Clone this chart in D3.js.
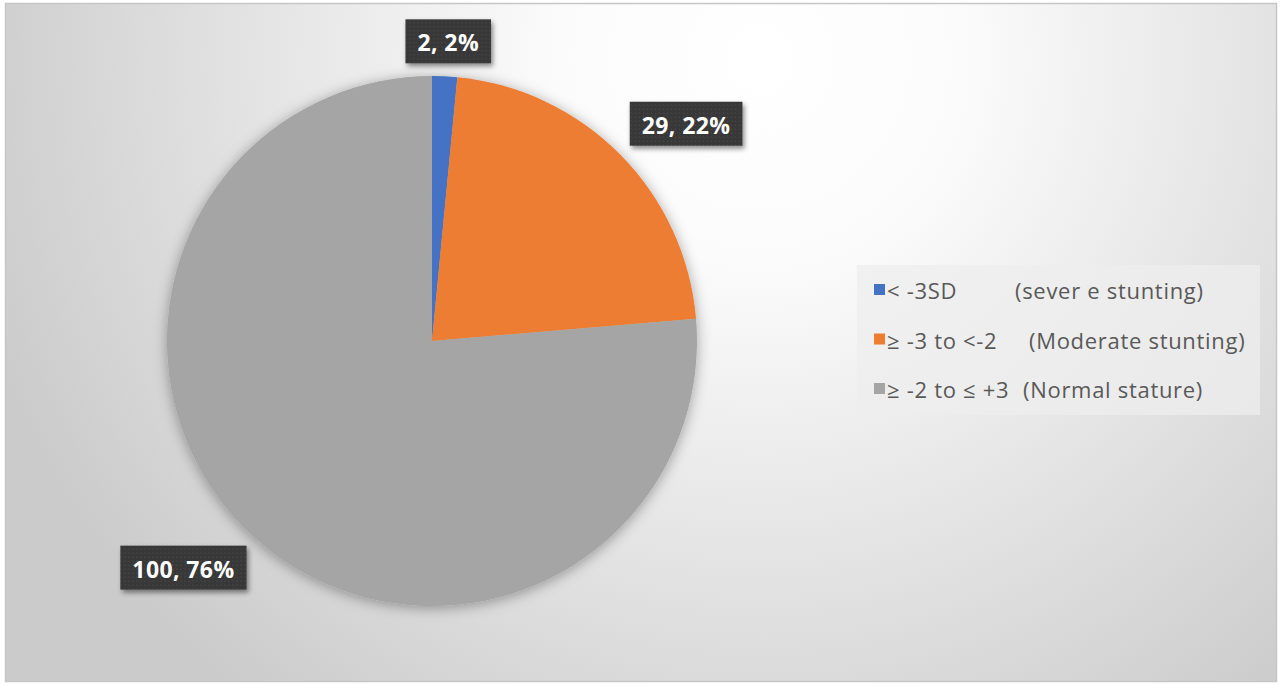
<!DOCTYPE html>
<html>
<head>
<meta charset="utf-8">
<script src="https://cdn.jsdelivr.net/npm/d3@7"></script>
<style>
  body { margin: 0; background: #fff; }
  svg { display: block; }
</style>
</head>
<body>
<div id="chart"></div>
<script>
// data
let codes = ["< -3SD", "\u2265 -3 to <-2", "\u2265 -2 to \u2264 +3"];
let descs = ["(sever e stunting)", "(Moderate stunting)", "(Normal stature)"];
let counts = [2, 29, 100];
let colors = ["#4472c4", "#ed7d31", "#a5a5a5"];

let W = 1280, H = 685;
let cx = 432, cy = 341, R = 265;

let svg = d3.select("#chart")
    .append("svg")
    .attr("width", W)
    .attr("height", H);

let defs = svg.append("defs");

// background gradient, white near the top middle, grey at the edges
let bg = defs.append("radialGradient")
    .attr("id", "bg")
    .attr("gradientUnits", "userSpaceOnUse")
    .attr("cx", 760).attr("cy", 60).attr("r", 820);
bg.append("stop").attr("offset", "0%").attr("stop-color", "#ffffff");
bg.append("stop").attr("offset", "25%").attr("stop-color", "#fbfbfb");
bg.append("stop").attr("offset", "100%").attr("stop-color", "#cbcbcb");

let shadow = defs.append("filter")
    .attr("id", "shadow")
    .attr("x", "-20%").attr("y", "-20%")
    .attr("width", "140%").attr("height", "140%");
shadow.append("feDropShadow")
    .attr("dx", 0).attr("dy", 2)
    .attr("stdDeviation", 7)
    .attr("flood-color", "#000")
    .attr("flood-opacity", 0.35);

let boxShadow = defs.append("filter")
    .attr("id", "boxShadow")
    .attr("x", "-30%").attr("y", "-30%")
    .attr("width", "160%").attr("height", "160%");
boxShadow.append("feDropShadow")
    .attr("dx", 2).attr("dy", 3)
    .attr("stdDeviation", 2.5)
    .attr("flood-color", "#000")
    .attr("flood-opacity", 0.45);

// dotted fill of the label boxes
let pat = defs.append("pattern")
    .attr("id", "dots")
    .attr("patternUnits", "userSpaceOnUse")
    .attr("width", 4).attr("height", 4);
pat.append("rect").attr("width", 4).attr("height", 4).attr("fill", "#393939");
pat.append("rect").attr("x", 1).attr("y", 1).attr("width", 1).attr("height", 1).attr("fill", "#4d4d4d");

// chart area
svg.append("rect")
    .attr("x", 5.5).attr("y", 3.5)
    .attr("width", 1271).attr("height", 678)
    .attr("fill", "url(#bg)")
    .attr("stroke", "#c6c6c6")
    .attr("stroke-width", 1.5);

// pie
let pie = d3.pie().sort(null).value(d => d);
let arcs = pie(counts);
let arc = d3.arc().innerRadius(0).outerRadius(R);

let g = svg.append("g")
    .attr("transform", "translate(" + cx + "," + cy + ")");

g.append("g")
    .attr("filter", "url(#shadow)")
    .selectAll("path")
    .data(arcs)
    .enter()
    .append("path")
    .attr("d", arc)
    .attr("fill", (d, i) => colors[i]);

// data labels, outside end
let total = d3.sum(counts);
let fmt = d3.format(".0%");
let gap = 13;

let labels = g.selectAll(".lbl")
    .data(arcs)
    .enter()
    .append("g")
    .attr("class", "lbl");

labels.append("text")
    .text(d => d.data + ", " + fmt(d.data / total))
    .attr("font-family", "'Open Sans', sans-serif")
    .attr("font-weight", "bold")
    .attr("font-size", 23)
    .attr("letter-spacing", 0.4)
    .attr("fill", "#ffffff")
    .attr("text-anchor", "middle")
    .attr("dominant-baseline", "central");

labels.each(function (d) {
    let sel = d3.select(this);
    let t = sel.select("text");
    let bb = t.node().getBBox();
    let bw = bb.width + 24, bh = 44;
    let mid = (d.startAngle + d.endAngle) / 2;
    let s = Math.sin(mid), c = Math.cos(mid);
    let k = 1 / Math.SQRT2;
    let ox = (bw / 2) * Math.max(-1, Math.min(1, s / k));
    let oy = -(bh / 2) * Math.max(-1, Math.min(1, c / k));
    let x = s * (R + gap) + ox;
    let y = -c * (R + gap) + oy;
    sel.insert("rect", "text")
        .attr("x", -bw / 2).attr("y", -bh / 2)
        .attr("width", bw).attr("height", bh)
        .attr("fill", "url(#dots)")
        .attr("filter", "url(#boxShadow)");
    t.attr("y", 1);
    sel.attr("transform", "translate(" + x + "," + y + ")");
});

// legend
let legend = svg.append("g")
    .attr("transform", "translate(857,265)");

legend.append("rect")
    .attr("width", 403).attr("height", 150)
    .attr("fill", "#ededed")
    .attr("opacity", 0.75);

let descX = [158, 172, 166];

let rows = legend.selectAll(".row")
    .data(codes)
    .enter()
    .append("g")
    .attr("class", "row")
    .attr("transform", (d, i) => "translate(0," + (25 + i * 49.5) + ")");

rows.append("rect")
    .attr("x", 17).attr("y", -6)
    .attr("width", 11).attr("height", 11)
    .attr("fill", (d, i) => colors[i]);

rows.append("text")
    .attr("x", 30)
    .attr("dominant-baseline", "central")
    .attr("font-family", "'Open Sans', sans-serif")
    .attr("font-size", 22)
    .attr("letter-spacing", 0.7)
    .attr("fill", "#595959")
    .text(d => d);

rows.append("text")
    .attr("x", (d, i) => descX[i])
    .attr("dominant-baseline", "central")
    .attr("font-family", "'Open Sans', sans-serif")
    .attr("font-size", 22)
    .attr("letter-spacing", 0.7)
    .attr("fill", "#595959")
    .text((d, i) => descs[i]);
</script>
</body>
</html>
